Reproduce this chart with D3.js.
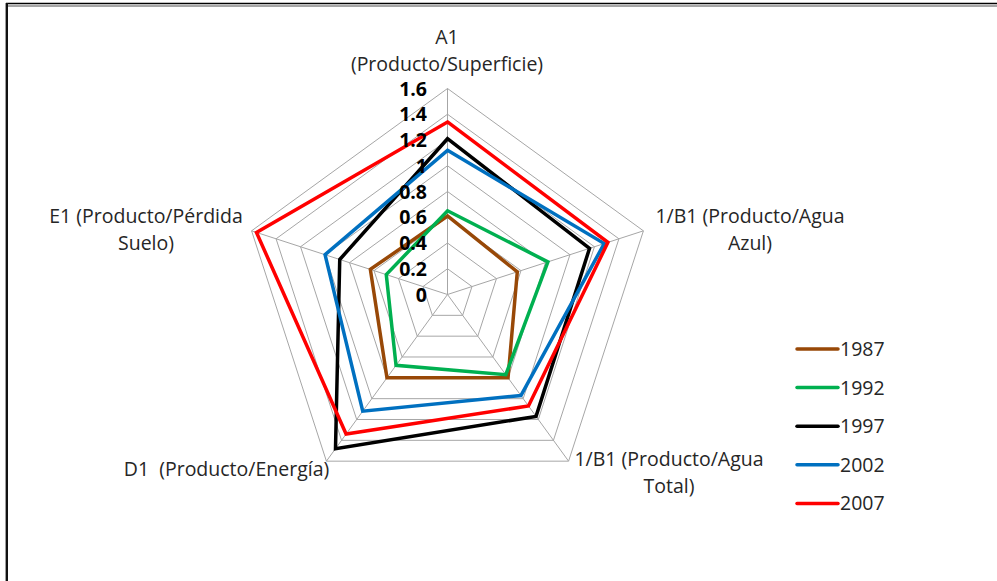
<!DOCTYPE html>
<html>
<head>
<meta charset="utf-8">
<script src="https://cdn.jsdelivr.net/npm/d3@7"></script>
<style>
  html, body { margin: 0; padding: 0; background: #fff; }
  svg { display: block; }
  text { white-space: pre; }
</style>
</head>
<body>
<div id="chart"></div>
<script>
// Indicator axes (clockwise from the top), each label split into lines
const axes = ["A1", "B1Azul", "B1Total", "D1", "E1"];
const axisLabels = [
  ["A1", "(Producto/Superficie)"],
  ["1/B1 (Producto/Agua", "Azul)"],
  ["1/B1 (Producto/Agua", "Total)"],
  ["D1  (Producto/Energía)"],
  ["E1 (Producto/Pérdida", "Suelo)"]
];
const years = ["1987", "1992", "1997", "2002", "2007"];
const v1987 = [0.61, 0.57, 0.80, 0.80, 0.63];
const v1992 = [0.65, 0.82, 0.77, 0.68, 0.50];
const v1997 = [1.21, 1.16, 1.17, 1.48, 0.88];
const v2002 = [1.12, 1.28, 0.97, 1.12, 1.00];
const v2007 = [1.34, 1.31, 1.07, 1.34, 1.56];
const tickValues = [0, 0.2, 0.4, 0.6, 0.8, 1, 1.2, 1.4, 1.6];
const tickLabels = ["0", "0.2", "0.4", "0.6", "0.8", "1", "1.2", "1.4", "1.6"];
const seriesColors = ["#984807", "#00b050", "#000000", "#0070c0", "#ff0000"];

const series = years.map((y, i) => ({
  year: y,
  values: [v1987, v1992, v1997, v2002, v2007][i],
  color: seriesColors[i]
}));

const W = 997, H = 581;
const cx = 447.5, cy = 294.5, R = 206;
const font = "'Open Sans', 'Noto Sans', sans-serif";
const fs = 19.5;

const svg = d3.select("#chart").append("svg")
  .attr("width", W).attr("height", H);

// Outer frame (only top and left edges fall inside the view)
svg.append("line").attr("x1", 6).attr("x2", W).attr("y1", 3.5).attr("y2", 3.5)
  .attr("stroke", "#000").attr("stroke-width", 1.5);
svg.append("line").attr("x1", 8).attr("x2", W).attr("y1", 6).attr("y2", 6)
  .attr("stroke", "#888").attr("stroke-width", 1.5);
svg.append("line").attr("x1", 6.8).attr("x2", 6.8).attr("y1", 3).attr("y2", H)
  .attr("stroke", "#111").attr("stroke-width", 2.4);

const r = d3.scaleLinear().domain([0, 1.6]).range([0, R]);
const angle = d3.scaleBand().domain(axes).range([0, 2 * Math.PI]).align(0).paddingInner(0).paddingOuter(0);
const ang = a => angle(a);

const g = svg.append("g").attr("transform", `translate(${cx},${cy})`);

const radial = d3.lineRadial()
  .angle((d, i) => ang(axes[i]))
  .radius(d => r(d))
  .curve(d3.curveLinearClosed);

// Grid rings
g.append("g").selectAll("path")
  .data(tickValues.filter(t => t > 0))
  .join("path")
  .attr("d", t => radial(axes.map(() => t)))
  .attr("fill", "none")
  .attr("stroke", "#a6a6a6")
  .attr("stroke-width", 1);

// Spokes
g.append("g").selectAll("line")
  .data(axes)
  .join("line")
  .attr("x1", 0).attr("y1", 0)
  .attr("x2", a => r(1.6) * Math.sin(ang(a)))
  .attr("y2", a => -r(1.6) * Math.cos(ang(a)))
  .attr("stroke", "#a6a6a6")
  .attr("stroke-width", 1);

// Series polygons
g.append("g").selectAll("path")
  .data(series)
  .join("path")
  .attr("d", s => radial(s.values))
  .attr("fill", "none")
  .attr("stroke", s => s.color)
  .attr("stroke-width", 3.5)
  .attr("stroke-linejoin", "miter");

// Radial tick labels along the top spoke
g.append("g").selectAll("text")
  .data(tickValues)
  .join("text")
  .attr("x", -20.5)
  .attr("y", t => -r(t))
  .attr("dy", "0.36em")
  .attr("text-anchor", "end")
  .attr("font-family", font)
  .attr("font-weight", "bold")
  .attr("font-size", fs)
  .attr("fill", "#000")
  .text((t, i) => tickLabels[i]);

// Axis category labels
const labelPos = [
  { x: 447, y: 37 },
  { x: 750, y: 216 },
  { x: 669, y: 459 },
  { x: 226.5, y: 469 },
  { x: 146, y: 216 }
];
axisLabels.forEach((lines, i) => {
  const t = svg.append("text")
    .attr("font-family", font)
    .attr("font-size", fs)
    .attr("fill", "#262626")
    .attr("text-anchor", "middle");
  lines.forEach((ln, j) => {
    t.append("tspan")
      .attr("x", labelPos[i].x)
      .attr("y", labelPos[i].y + j * 27)
      .attr("dy", "0.36em")
      .text(ln);
  });
});

// Legend
const legend = svg.append("g").selectAll("g")
  .data(series)
  .join("g")
  .attr("transform", (s, i) => `translate(797, ${349 + i * 38.6})`);
legend.append("line")
  .attr("x1", 0).attr("x2", 41).attr("y1", 0).attr("y2", 0)
  .attr("stroke", s => s.color).attr("stroke-width", 3.5)
  .attr("stroke-linecap", "round");
legend.append("text")
  .attr("x", 43).attr("y", 0).attr("dy", "0.36em")
  .attr("font-family", font).attr("font-size", fs).attr("fill", "#262626")
  .text(s => s.year);
</script>
</body>
</html>
